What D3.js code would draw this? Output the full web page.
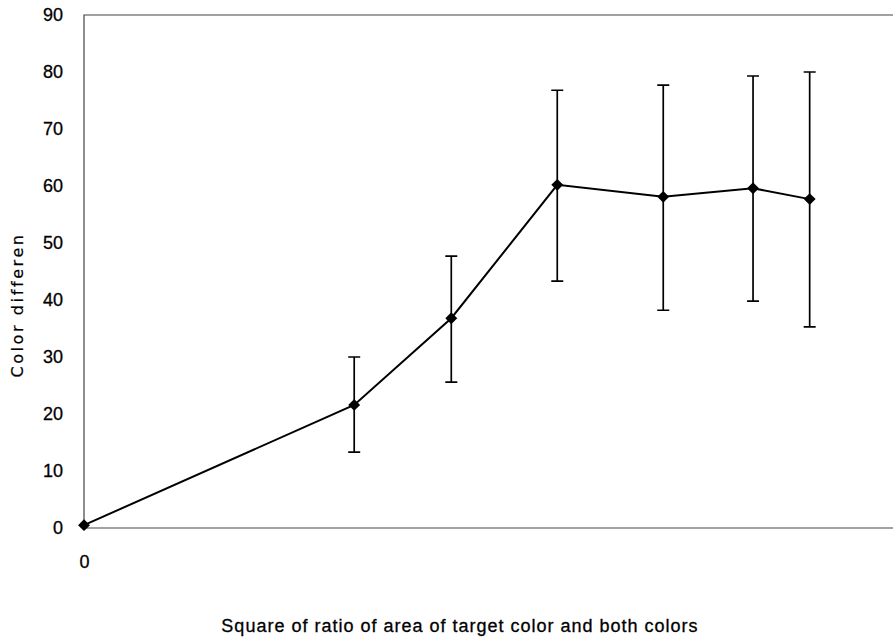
<!DOCTYPE html>
<html>
<head>
<meta charset="utf-8">
<script src="https://cdn.jsdelivr.net/npm/d3@7"></script>
<style>
  body { margin: 0; background: #fff; }
  svg { display: block; }
</style>
</head>
<body>
<svg id="chart" width="893" height="640"></svg>
<script>
// values
const ratios = [0, 0.334, 0.454, 0.585, 0.716, 0.827, 0.897];
const means  = [0.5, 21.6, 36.8, 60.2, 58.1, 59.6, 57.7];
const upper  = [null, 30.0, 47.7, 76.8, 77.7, 79.3, 80.0];
const lower  = [null, 13.3, 25.6, 43.3, 38.2, 39.8, 35.3];
const yTicks = [0, 10, 20, 30, 40, 50, 60, 70, 80, 90];
const xTicks = [0];

const data = ratios.map((r, i) => ({ x: r, y: means[i], hi: upper[i], lo: lower[i] }));

const svg = d3.select("#chart");
const plotLeft = 84, plotRight = 893, plotTop = 15, plotBottom = 528;

const x = d3.scaleLinear().domain([0, 1]).range([plotLeft, plotRight]);
const y = d3.scaleLinear().domain([0, 90]).range([plotBottom, plotTop]);

// frame
svg.append("path")
    .attr("d", `M${plotRight + 2},${plotTop}H${plotLeft}V${plotBottom}H${plotRight + 2}`)
    .attr("fill", "none")
    .attr("stroke", "#444")
    .attr("stroke-width", 1.2);

// y axis labels
svg.append("g")
    .attr("transform", `translate(${plotLeft},0)`)
    .call(d3.axisLeft(y).tickValues(yTicks).tickSize(0).tickPadding(21))
    .call(g => g.select(".domain").remove())
    .selectAll("text")
    .attr("font-family", "Liberation Sans, Arial, sans-serif")
    .attr("font-size", 18)
    .attr("fill", "#000")
    .attr("stroke", "#000")
    .attr("stroke-width", 0.3);

// x axis labels
svg.append("g")
    .attr("transform", `translate(0,${plotBottom})`)
    .call(d3.axisBottom(x).tickValues(xTicks).tickSize(0).tickPadding(27).tickFormat(d3.format("d")))
    .call(g => g.select(".domain").remove())
    .selectAll("text")
    .attr("font-family", "Liberation Sans, Arial, sans-serif")
    .attr("font-size", 18)
    .attr("fill", "#000")
    .attr("stroke", "#000")
    .attr("stroke-width", 0.3);

// error bars
const eb = data.filter(d => d.hi != null);
const cap = 6;
svg.append("g").selectAll("path")
    .data(eb)
    .enter().append("path")
    .attr("d", d => `M${x(d.x)},${y(d.hi)}V${y(d.lo)}` +
        `M${x(d.x) - cap},${y(d.hi)}H${x(d.x) + cap}` +
        `M${x(d.x) - cap},${y(d.lo)}H${x(d.x) + cap}`)
    .attr("fill", "none")
    .attr("stroke", "#000")
    .attr("stroke-width", 1.7);

// line
svg.append("path")
    .datum(data)
    .attr("fill", "none")
    .attr("stroke", "#000")
    .attr("stroke-width", 2)
    .attr("d", d3.line().x(d => x(d.x)).y(d => y(d.y)));

// diamond markers
svg.append("g").selectAll("path")
    .data(data)
    .enter().append("path")
    .attr("transform", d => `translate(${x(d.x)},${y(d.y)})`)
    .attr("d", d3.symbol().type(d3.symbolDiamond2).size(90))
    .attr("fill", "#000");

// axis titles
svg.append("text")
    .attr("transform", `translate(23,305) rotate(-90)`)
    .attr("text-anchor", "middle")
    .attr("font-family", "DejaVu Sans, sans-serif")
    .attr("font-size", 16)
    .attr("letter-spacing", 2.6)
    .attr("stroke", "#000")
    .attr("stroke-width", 0.2)
    .text("Color differen");

svg.append("text")
    .attr("x", 460)
    .attr("y", 632)
    .attr("text-anchor", "middle")
    .attr("font-family", "Liberation Sans, Arial, sans-serif")
    .attr("font-size", 18)
    .attr("letter-spacing", 1)
    .attr("stroke", "#000")
    .attr("stroke-width", 0.3)
    .text("Square of ratio of area of target color and both colors");
</script>
</body>
</html>
